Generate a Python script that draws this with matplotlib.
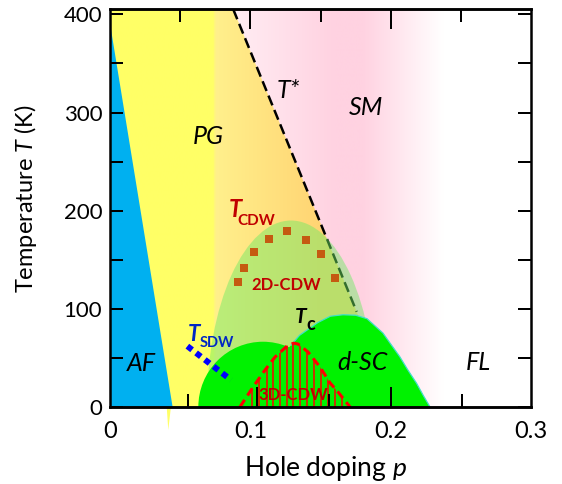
import numpy as np
import matplotlib
matplotlib.use("Agg")
import matplotlib.pyplot as plt
from matplotlib.patches import Polygon, Ellipse
from matplotlib.colors import LinearSegmentedColormap
from matplotlib.ticker import NullFormatter

plt.rcParams['font.family'] = ['Lato', 'DejaVu Sans']
plt.rcParams['mathtext.fontset'] = 'custom'
plt.rcParams['mathtext.rm'] = 'Lato'
plt.rcParams['mathtext.it'] = 'Lato:italic'
plt.rcParams['mathtext.bf'] = 'Lato:bold'

# ---------------- data ----------------
x_ticks = [0.0, 0.1, 0.2, 0.3]
x_tick_labels = ['0', '0.1', '0.2', '0.3']
y_ticks = [0, 100, 200, 300, 400]
y_tick_labels = ['0', '100', '200', '300', '400']
y_minor_ticks = [50, 150, 250, 350]
top_major_ticks = [0.1, 0.2]
top_minor_ticks = [0.05, 0.15, 0.25]
bottom_major_ticks = [0.105, 0.2]
bottom_minor_ticks = [0.056, 0.156, 0.251]

# antiferromagnet boundary
af_p = [0.0, 0.0, 0.0447]
af_T = [0, 392, 0]

# pseudogap line T*
tstar_p = [0.0879, 0.1757]
tstar_T = [405, 97]

# spin density wave line
tsdw_p = [0.0552, 0.0863]
tsdw_T = [62, 27.5]

# CDW onset temperatures
cdw_p = [0.0910, 0.0957, 0.1028, 0.1133, 0.1259, 0.1394, 0.1501, 0.1603]
cdw_T = [127.5, 142, 158, 171, 179.5, 170.5, 155.5, 131.5]

# 2D-CDW dome: centre doping, half width, maximum temperature
cdw2d_center, cdw2d_halfwidth, cdw2d_max = 0.129, 0.060, 190
# underdoped superconducting dome
sc_ud_center, sc_ud_halfwidth, sc_ud_max = 0.109, 0.046, 66.5
# main d-wave superconducting dome outline
sc_p = [0.112, 0.118, 0.124, 0.129, 0.135, 0.140, 0.148, 0.157, 0.166,
        0.175, 0.183, 0.1944, 0.200, 0.2064, 0.212, 0.2184, 0.223, 0.2279]
sc_T = [0, 40, 55, 63, 73, 78, 86, 92.5, 94, 93.5, 90, 75.3, 64, 51.2,
        38, 24, 12, 0]

# 3D-CDW dome
cdw3d_p = [0.0926, 0.102, 0.1105, 0.1176, 0.1269, 0.131, 0.134, 0.1411,
           0.1496, 0.1568, 0.1624, 0.171]
cdw3d_T = [0, 20.4, 37.7, 50.9, 63.1, 65, 64.1, 56, 40.7, 24.4, 15.3, 0]
cdw3d_hatch_p = [0.1014, 0.1064, 0.1117, 0.1159, 0.1211, 0.1259, 0.1306,
                 0.1354, 0.1406, 0.1454, 0.1503, 0.1551, 0.1603, 0.1653]

# ---------------- figure ----------------
P_MAX, T_TOP = 0.3, 406
fig = plt.figure(figsize=(5.62, 4.84), dpi=100)
ax = fig.add_axes([0.1954, 0.1591, 0.7500, 0.8233])

# background gradients
xs = np.linspace(0, P_MAX, 800)
pink_cmap = LinearSegmentedColormap.from_list('pinkgrad', [
    (0.0, '#FFF3F7'), (0.08 / P_MAX, '#FFF0F5'), (0.16 / P_MAX, '#FFD2E1'),
    (0.18 / P_MAX, '#FFD2E1'), (0.237 / P_MAX, '#FFFFFF'), (1.0, '#FFFFFF')])
yel_cmap = LinearSegmentedColormap.from_list('yelgrad', [
    (0.0, '#FFFF66'), (0.0735 / P_MAX, '#FFFF66'), (0.0745 / P_MAX, '#FFF08C'),
    (0.15 / P_MAX, '#FFD473'), (1.0, '#FFD473')])
ax.imshow(pink_cmap(xs / P_MAX)[None, :, :], extent=(0, P_MAX, 0, T_TOP),
          aspect='auto', origin='lower', interpolation='bilinear', zorder=0.1)
yimg = ax.imshow(yel_cmap(xs / P_MAX)[None, :, :], extent=(0, P_MAX, 0, T_TOP),
                 aspect='auto', origin='lower', interpolation='bilinear', zorder=0.2)
slope = (tstar_p[1] - tstar_p[0]) / (tstar_T[1] - tstar_T[0])
p_at_top = tstar_p[0] + slope * (T_TOP - tstar_T[0])
p_at_zero = tstar_p[0] + slope * (0 - tstar_T[0])
yel_region = Polygon([(0, 0), (0, T_TOP), (p_at_top, T_TOP), (p_at_zero, 0)],
                     closed=True, transform=ax.transData)
yimg.set_clip_path(yel_region)
# small yellow sliver poking below the axis
ax.add_patch(Polygon([(0.0405, 0), (0.0435, 0), (0.0416, -23.5)], closed=True,
                     facecolor='#FFFF66', edgecolor='none', clip_on=False, zorder=0.25))

# AF region
ax.add_patch(Polygon(list(zip(af_p, af_T)), closed=True, facecolor='#00B0F0',
                     edgecolor='none', zorder=0.3))

# T* line
ax.plot(tstar_p, tstar_T, color='black', lw=1.8, linestyle=(0, (4.2, 2.0)), zorder=0.5)

# 2D-CDW dome (translucent green)
ax.add_patch(Ellipse((cdw2d_center, 0), 2 * cdw2d_halfwidth, 2 * cdw2d_max,
                     facecolor=(110 / 255, 235 / 255, 100 / 255), alpha=0.47,
                     edgecolor='none', zorder=0.6))

# superconducting domes
sc_green = '#00F200'
ax.add_patch(Ellipse((sc_ud_center, 0), 2 * sc_ud_halfwidth, 2 * sc_ud_max,
                     facecolor=sc_green, edgecolor='none', zorder=0.7))
ax.add_patch(Polygon(list(zip(sc_p, sc_T)), closed=True, facecolor=sc_green,
                     edgecolor='none', zorder=0.7))
ax.plot(sc_p[3:], sc_T[3:], color='#40E0C8', lw=0.9, zorder=0.72)

# 3D-CDW dome: hatch lines clipped to the dome, dashed outline
cdw3d_region = Polygon(list(zip(cdw3d_p, cdw3d_T)), closed=True, transform=ax.transData)
hatch = ax.vlines(cdw3d_hatch_p, 0, 80, colors='#FF0000', lw=1.1, zorder=0.8)
hatch.set_clip_path(cdw3d_region)
ax.plot(cdw3d_p, cdw3d_T, color='#FF0000', lw=2.2, linestyle=(0, (2.8, 1.7)),
        zorder=0.85, clip_on=False)

# CDW onset points
ax.plot(cdw_p, cdw_T, linestyle='none', marker='s', markersize=5.3,
        color='#C55A11', markeredgewidth=0, zorder=0.9)

# SDW line
ax.plot(tsdw_p, tsdw_T, color='#0000FF', lw=4.3, linestyle=(0, (1.0, 0.85)), zorder=0.95)

# ---------------- labels ----------------
red = '#C00000'
blue = '#0026C4'
reg = dict(fontsize=18, style='italic', ha='center', va='baseline', zorder=3)
ax.text(0.0225, 37.0, 'AF', **reg)
ax.text(0.0699, 268, 'PG', **reg)
ax.text(0.127, 315, 'T*', **reg)
ax.text(0.1822, 298, 'SM', **reg)
ax.text(0.180, 37.6, 'd-SC', **reg)
ax.text(0.2623, 37.6, 'FL', **reg)

ax.text(0.0843, 193.9, 'T', fontsize=17, fontweight='bold', style='italic',
        color=red, ha='left', va='baseline', zorder=3)
ax.text(0.0911, 185.7, 'CDW', fontsize=11, fontweight='bold', color=red,
        ha='left', va='baseline', zorder=3)
ax.text(0.1255, 118.7, '2D-CDW', fontsize=12, fontweight='bold', color=red,
        ha='center', va='baseline', zorder=3)
ax.text(0.1306, 7.1, '3D-CDW', fontsize=12, fontweight='bold', color=red,
        ha='center', va='baseline', zorder=3)
ax.text(0.1318, 85.4, 'T', fontsize=15, fontweight='bold', style='italic',
        color='black', ha='left', va='baseline', zorder=3)
ax.text(0.1401, 78.6, 'c', fontsize=13, fontweight='bold', color='black',
        ha='left', va='baseline', zorder=3)
ax.text(0.0553, 67.5, 'T', fontsize=16, fontweight='bold', style='italic',
        color=blue, ha='left', va='baseline', zorder=3)
ax.text(0.0642, 60.7, 'SDW', fontsize=10.5, fontweight='bold', color=blue,
        ha='left', va='baseline', zorder=3)

# ---------------- axes styling ----------------
ax.set_xlim(0, P_MAX)
ax.set_ylim(0, T_TOP)
ax.set_xticks(x_ticks)
ax.set_xticklabels(x_tick_labels)
ax.tick_params(axis='x', which='both', length=0, pad=10, labelsize=17)
ax.set_yticks(y_ticks)
ax.set_yticklabels(y_tick_labels)
ax.set_yticks(y_minor_ticks, minor=True)
ax.tick_params(axis='y', which='both', direction='in', left=True, right=True,
               length=9.4, width=1.44, labelsize=16, pad=5.5)
for s in ax.spines.values():
    s.set_linewidth(1.8)
    s.set_zorder(10)
ax.xaxis.set_zorder(10)
ax.yaxis.set_zorder(10)

sec_top = ax.secondary_xaxis('top')
sec_top.set_ticks(top_major_ticks)
sec_top.set_ticks(top_minor_ticks, minor=True)
sec_top.xaxis.set_major_formatter(NullFormatter())
sec_top.xaxis.set_minor_formatter(NullFormatter())
sec_top.tick_params(axis='x', which='major', direction='in', length=14.4, width=1.44)
sec_top.tick_params(axis='x', which='minor', direction='in', length=9.4, width=1.44)
sec_top.set_zorder(20)

sec_bot = ax.secondary_xaxis('bottom')
sec_bot.set_ticks(bottom_major_ticks)
sec_bot.set_ticks(bottom_minor_ticks, minor=True)
sec_bot.xaxis.set_major_formatter(NullFormatter())
sec_bot.xaxis.set_minor_formatter(NullFormatter())
sec_bot.tick_params(axis='x', which='major', direction='in', length=14.4, width=1.44)
sec_bot.tick_params(axis='x', which='minor', direction='in', length=9.4, width=1.44)
sec_bot.set_zorder(20)
for sec in (sec_top, sec_bot):
    for s in sec.spines.values():
        s.set_linewidth(1.8)

ax.set_xlabel('Hole doping $p$', fontsize=19)
ax.xaxis.label.set_va('baseline')
ax.xaxis.set_label_coords(0.5106, -0.1724)
ax.set_ylabel('Temperature $T$ (K)', fontsize=17)
ax.yaxis.label.set_va('baseline')
ax.yaxis.set_label_coords(-0.1815, 0.523)

fig.savefig('out.png', dpi=100)
